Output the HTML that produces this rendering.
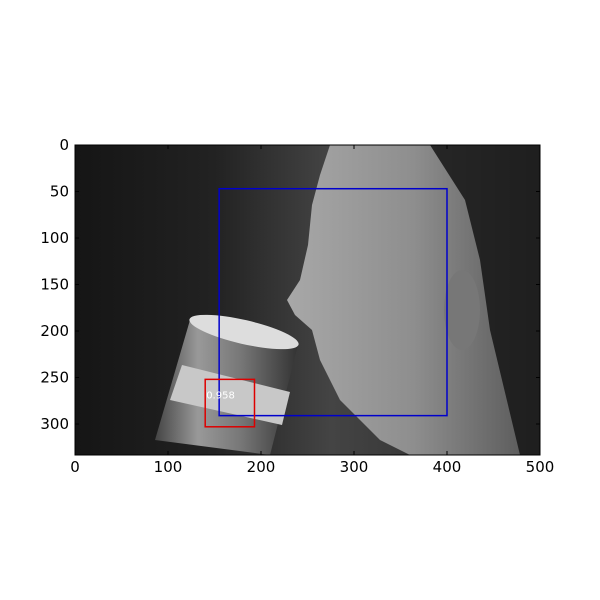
<!DOCTYPE html>
<html><head><meta charset="utf-8"><style>
body{margin:0;background:#fff;}
svg{display:block;font-family:"DejaVu Sans","Liberation Sans",sans-serif;}
</style></head><body>
<svg id="chart" width="600" height="600">
<defs>
<linearGradient id="bg" x1="0" y1="0" x2="1" y2="0">
<stop offset="0" stop-color="#151515"/><stop offset="0.3" stop-color="#222"/><stop offset="0.55" stop-color="#444"/><stop offset="0.7" stop-color="#3a3a3a"/><stop offset="1" stop-color="#0a0a0a"/>
</linearGradient>
<linearGradient id="face" x1="0" y1="0" x2="1" y2="0">
<stop offset="0" stop-color="#a8a8a8"/><stop offset="0.5" stop-color="#8e8e8e"/><stop offset="1" stop-color="#555"/>
</linearGradient>
<linearGradient id="mug" x1="0" y1="0" x2="1" y2="0">
<stop offset="0" stop-color="#444"/><stop offset="0.3" stop-color="#999"/><stop offset="0.6" stop-color="#777"/><stop offset="1" stop-color="#333"/>
</linearGradient>
<clipPath id="clip"><rect x="75" y="145" width="465" height="310"/></clipPath>
</defs>
<g id="photo" clip-path="url(#clip)">
<rect x="75" y="145" width="465" height="310" fill="url(#bg)"/>
<path d="M330,145 L540,145 L540,455 L410,455 L380,440 L340,400 L320,360 L312,330 L295,315 L287,300 L300,280 L308,245 L312,205 L320,175 Z" fill="url(#face)"/>
<path d="M430,145 L540,145 L540,455 L520,455 L490,330 L480,260 L465,200 Z" fill="#151515" opacity="0.85"/>
<ellipse cx="462" cy="310" rx="18" ry="40" fill="#777"/>
<path d="M190,320 L298,345 L270,455 L155,440 Z" fill="url(#mug)"/>
<ellipse cx="244" cy="332" rx="56" ry="12" transform="rotate(13 244 332)" fill="#ddd"/>
<path d="M182,365 L290,392 L282,425 L170,400 Z" fill="#c8c8c8"/>
</g>
<rect x="75" y="145" width="465" height="310" fill="none" stroke="#000" stroke-width="1"/>
<g id="ticks"></g>
<g id="boxes"></g>
</svg>
<script>
const xTicks=[0,100,200,300,400,500];
const yTicks=[0,50,100,150,200,250,300];
const boxX1=[155,140];
const boxY1=[47,252];
const boxX2=[400,193];
const boxY2=[291,303];
const boxColors=["#0000cc","#dd0000"];
const boxScores=["","0.958"];
const X0=75,Y0=145,S=0.93;
const sx=v=>X0+v*S, sy=v=>Y0+v*S;
const NS="http://www.w3.org/2000/svg";
const tg=document.getElementById('ticks');
function mk(t,a,p){const e=document.createElementNS(NS,t);for(const k in a)e.setAttribute(k,a[k]);p.appendChild(e);return e;}
xTicks.forEach(v=>{
 const x=sx(v);
 const l=mk('line',{x1:x,x2:x,y1:455,y2:451,stroke:'#000'},tg);
 
 
 mk('line',{x1:x,x2:x,y1:145,y2:149,stroke:'#000'},tg);
 const t=mk('text',{x:x,y:472,'text-anchor':'middle','font-size':15},tg);
 t.textContent=v;
 
 
});
yTicks.forEach(v=>{
 const y=sy(v);
 const l=mk('line',{x1:75,x2:79,y1:y,y2:y,stroke:'#000'},tg);
 
 
 mk('line',{x1:540,x2:536,y1:y,y2:y,stroke:'#000'},tg);
 const t=mk('text',{x:69,y:y+5,'text-anchor':'end','font-size':15},tg);
 t.textContent=v;
 
 
});
const bg=document.getElementById('boxes');
boxX1.forEach((v,i)=>{
 const r=mk('rect',{x:sx(v),y:sy(boxY1[i]),width:(boxX2[i]-v)*S,height:(boxY2[i]-boxY1[i])*S,fill:'none',stroke:boxColors[i],'stroke-width':1.5},bg);
 
 
 if(boxScores[i]){
  const t=mk('text',{x:sx(v)+1,y:sy(boxY1[i])+19,fill:'#fff','font-size':10},bg);
  t.textContent=boxScores[i];
  
  
 }
});
</script>
</body></html>
